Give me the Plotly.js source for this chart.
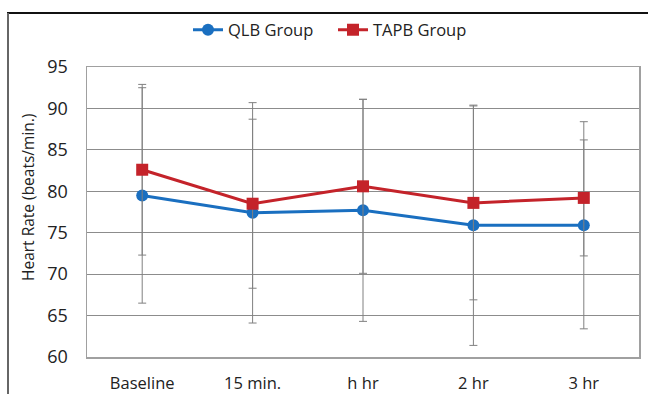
<!DOCTYPE html>
<html>
<head>
<meta charset="utf-8">
<script src="https://cdn.plot.ly/plotly-3.0.1.min.js"></script>
<style>html,body{margin:0;padding:0;background:#fff;}#chart{width:648px;height:394px;}</style>
</head>
<body>
<div id="chart"></div>
<script>
const categories = ["Baseline", "15 min.", "h hr", "2 hr", "3 hr"];
const qlbMean = [79.5, 77.4, 77.7, 75.9, 75.9];
const qlbSD   = [13.0, 13.3, 13.4, 14.5, 12.5];
const tapbMean = [82.6, 78.5, 80.6, 78.6, 79.2];
const tapbSD   = [10.3, 10.2, 10.5, 11.7, 7.0];
const yTicks = [60, 65, 70, 75, 80, 85, 90, 95];
const yTitle = "Heart Rate (beats/min.)";

const FONT = "Open Sans, Liberation Sans, sans-serif";
const errStyle = {type: "data", symmetric: true, color: "#808080", thickness: 1, width: 4};

const traces = [
  {
    x: categories, y: qlbMean, name: "QLB Group", type: "scatter", mode: "lines+markers",
    line: {color: "#1a6fc0", width: 3},
    marker: {symbol: "circle", size: 12, color: "#1a6fc0"},
    error_y: Object.assign({array: qlbSD}, errStyle)
  },
  {
    x: categories, y: tapbMean, name: "TAPB Group", type: "scatter", mode: "lines+markers",
    line: {color: "#c4232a", width: 3},
    marker: {symbol: "square", size: 12, color: "#c4232a"},
    error_y: Object.assign({array: tapbSD}, errStyle)
  }
];

const layout = {
  width: 648, height: 394,
  margin: {l: 87, r: 9, t: 67, b: 37},
  paper_bgcolor: "#ffffff", plot_bgcolor: "#ffffff",
  font: {family: FONT, size: 17, color: "#222"},
  showlegend: true,
  legend: {orientation: "h", xref: "container", yref: "container",
           x: 188/648, xanchor: "left", y: 1 - 30/394, yanchor: "middle",
           bgcolor: "rgba(0,0,0,0)", entrywidth: 100, entrywidthmode: "pixels",
           font: {family: FONT, size: 16.5, color: "#222"}, itemwidth: 30, traceorder: "normal"},
  xaxis: {
    type: "category", range: [-0.5, 4.5], showgrid: false, zeroline: false,
    showline: true, mirror: true, linecolor: "#a0a0a0", linewidth: 1.5,
    ticks: "", tickfont: {family: FONT, size: 16.5, color: "#222"}, ticklabelstandoff: 11
  },
  yaxis: {
    range: [60, 95], tickvals: yTicks, ticktext: yTicks.map(String),
    showgrid: true, gridcolor: "#8c8c8c", gridwidth: 1, zeroline: false,
    showline: true, mirror: true, linecolor: "#a0a0a0", linewidth: 1.5,
    ticks: "", tickfont: {family: FONT, size: 18, color: "#222"}, ticklabelstandoff: 14
  },
  annotations: [
    {text: yTitle, xref: "paper", yref: "paper", x: (28 - 87) / 552, y: (357 - 198) / 290,
     xanchor: "center", yanchor: "middle", textangle: -90, showarrow: false,
     font: {family: FONT, size: 15.5, color: "#222"}}
  ],
  shapes: [
    {type: "line", xref: "paper", yref: "paper", x0: -80/552, x1: 570/552, y0: 1 + 54/290, y1: 1 + 54/290,
     line: {color: "#111", width: 2}},
    {type: "line", xref: "paper", yref: "paper", x0: -79/552, x1: -79/552, y0: -40/290, y1: 1 + 54/290,
     line: {color: "#666", width: 2}}
  ]
};

Plotly.newPlot("chart", traces, layout, {displayModeBar: false, staticPlot: true});
</script>
</body>
</html>
